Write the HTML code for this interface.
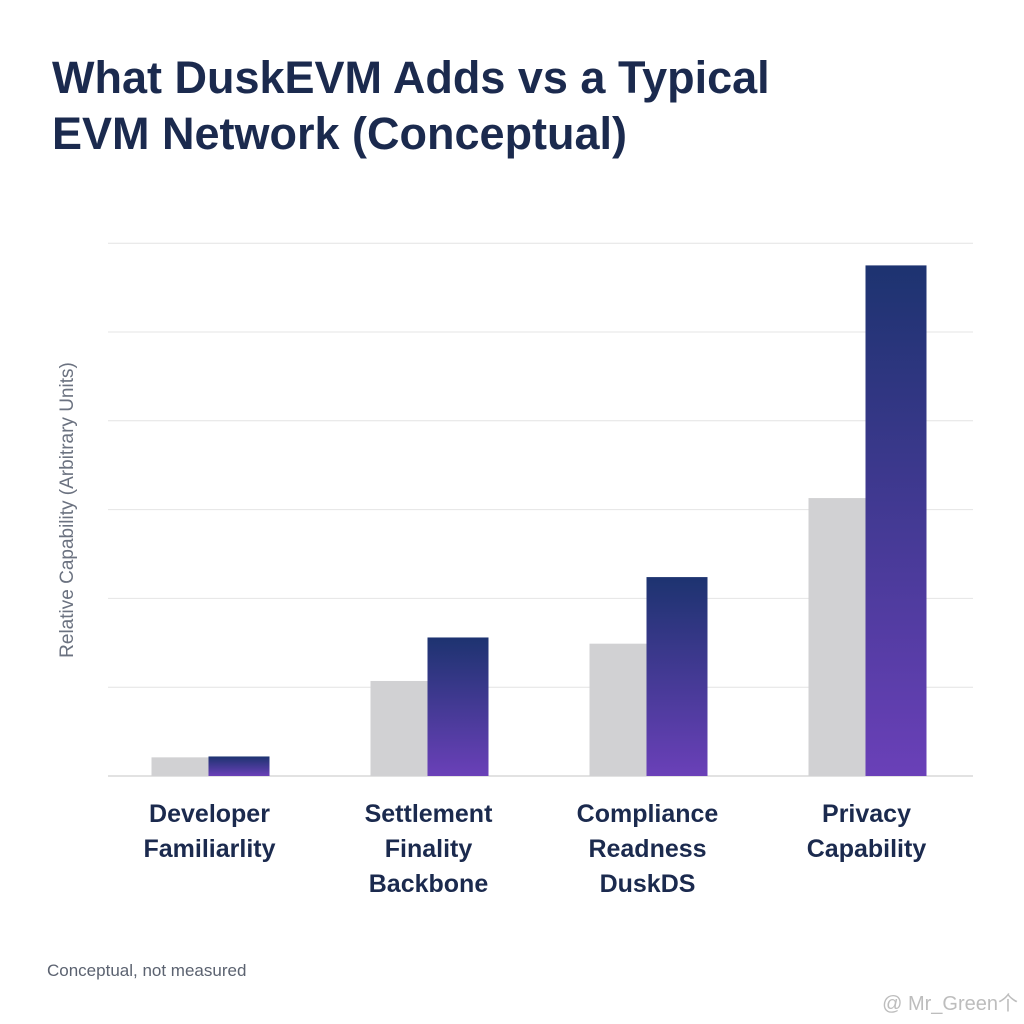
<!DOCTYPE html>
<html><head><meta charset="utf-8"><style>
html,body{margin:0;padding:0;background:#fff;}
body{width:1024px;height:1024px;position:relative;overflow:hidden;font-family:"Liberation Sans",sans-serif;}
#title{position:absolute;left:52px;top:50px;font-size:45px;font-weight:bold;color:#1b2a4e;line-height:56px;margin:0;white-space:nowrap;}
#foot{position:absolute;left:47px;top:961px;font-size:17px;color:#5b6270;}
#wm{position:absolute;right:6px;top:987px;font-size:20px;color:#bdbdbd;}
</style></head><body>
<h1 id="title">What DuskEVM Adds vs a Typical<br>EVM Network (Conceptual)</h1>
<svg id="chart" width="1024" height="1024" style="position:absolute;left:0;top:0">
<defs><linearGradient id="pg" x1="0" y1="0" x2="0" y2="1"><stop offset="0" stop-color="#1d3370"/><stop offset="1" stop-color="#6a40b8"/></linearGradient></defs>
<g id="grid"></g><g id="bars"></g><g id="labels"></g>
<text transform="translate(73,510) rotate(-90)" text-anchor="middle" font-size="19" fill="#6b7280">Relative Capability (Arbitrary Units)</text>
</svg>
<div id="foot">Conceptual, not measured</div>
<div id="wm">@ Mr_Green个</div>
<script>
const categories=[["Developer","Familiarlity"],["Settlement","Finality","Backbone"],["Compliance","Readness","DuskDS"],["Privacy","Capability"]];
const typicalValues=[0.21,1.07,1.49,3.13];
const duskValues=[0.22,1.56,2.24,5.75];
const yTicks=[0,1,2,3,4,5,6];
const NS="http://www.w3.org/2000/svg";
const x0=100,bandW=219,baseY=776,unit=88.8;
const y=v=>baseY-v*unit;
const bx=i=>x0+i*bandW;
function mk(tag,attrs,parent){const e=document.createElementNS(NS,tag);for(const k in attrs)e.setAttribute(k,attrs[k]);parent.appendChild(e);return e;}
const grid=document.getElementById('grid'),bars=document.getElementById('bars'),labels=document.getElementById('labels');
yTicks.forEach(t=>{const l=mk('line',{x1:108,x2:973,y1:y(t),y2:y(t),stroke:t===0?'#d8d8d8':'#e4e4e4','stroke-width':t===0?1.5:1},grid);

});
categories.forEach((c,i)=>{
const cx=bx(i)+bandW/2;
const g=mk('rect',{x:cx-58,y:y(typicalValues[i]),width:57,height:typicalValues[i]*unit,fill:'#d1d1d3'},bars);


const p=mk('rect',{x:cx-1,y:y(duskValues[i]),width:61,height:duskValues[i]*unit,fill:'url(#pg)'},bars);


const t=mk('text',{'text-anchor':'middle','font-size':25,'font-weight':'bold',fill:'#1b2a4e'},labels);


c.forEach((s,j)=>{const ts=mk('tspan',{x:cx,y:822+j*35},t);ts.textContent=s;});
});
</script>
</body></html>
